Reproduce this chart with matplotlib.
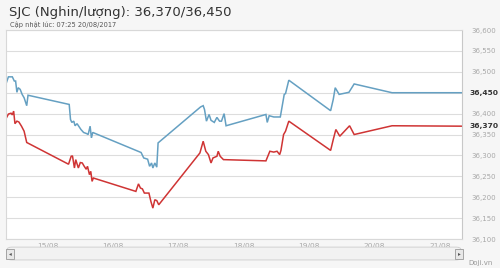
"""SJC gold price chart (buy/sell), 14/08 - 21/08/2017."""

import matplotlib.pyplot as plt
from matplotlib.patches import FancyBboxPatch, Rectangle
from matplotlib.ticker import FuncFormatter, MultipleLocator

# time in days of August (fractional), values in thousand VND per luong
SELL_DAY = [14.36, 14.40, 14.46, 14.49, 14.51, 14.53, 14.55, 14.58, 14.61, 14.64, 14.68, 14.70,
            15.33, 15.35, 15.37, 15.40, 15.42, 15.45, 15.48, 15.51, 15.55, 15.60, 15.62, 15.65, 15.67, 15.69,
            16.43, 16.47, 16.53, 16.56, 16.59, 16.61, 16.64, 16.67, 16.69,
            17.34, 17.38, 17.40, 17.43, 17.47, 17.50, 17.55, 17.59, 17.63, 17.66, 17.70, 17.73,
            18.34, 18.36, 18.39, 18.46, 18.56, 18.58, 18.62, 18.64, 18.69,
            19.33, 19.37, 19.40, 19.46, 19.61, 19.69, 20.27, 21.34]
SELL = [36470, 36488, 36488, 36478, 36478, 36451, 36462, 36458, 36446, 36438, 36419, 36444,
        36422, 36386, 36379, 36382, 36371, 36376, 36369, 36362, 36355, 36352, 36350, 36370, 36342, 36355,
        36307, 36294, 36291, 36274, 36282, 36270, 36282, 36272, 36330,
        36416, 36419, 36410, 36382, 36398, 36384, 36379, 36391, 36382, 36382, 36400, 36371,
        36398, 36379, 36395, 36392, 36392, 36410, 36446, 36448, 36480,
        36407, 36434, 36462, 36446, 36451, 36471, 36450, 36450]

BUY_DAY = [14.36, 14.40, 14.44, 14.46, 14.48, 14.50, 14.53, 14.56, 14.60, 14.64, 14.68,
           15.32, 15.36, 15.38, 15.41, 15.43, 15.47, 15.50, 15.53, 15.56, 15.59, 15.61, 15.64, 15.66,
           15.68, 15.70,
           16.35, 16.39, 16.42, 16.45, 16.48, 16.55, 16.58, 16.61, 16.64, 16.67, 16.70,
           17.33, 17.38, 17.42, 17.46, 17.50, 17.53, 17.56, 17.59, 17.61, 17.64, 17.69,
           18.34, 18.40, 18.46, 18.51, 18.55, 18.57, 18.61, 18.64, 18.69,
           19.33, 19.37, 19.41, 19.47, 19.62, 19.69, 20.27, 21.34]
BUY = [36387, 36399, 36401, 36397, 36406, 36376, 36382, 36380, 36370, 36358, 36331,
       36279, 36298, 36299, 36270, 36290, 36270, 36283, 36282, 36274, 36267, 36274, 36254, 36262,
       36238, 36246,
       36214, 36232, 36222, 36220, 36210, 36210, 36190, 36174, 36194, 36192, 36182,
       36306, 36334, 36310, 36302, 36282, 36294, 36296, 36298, 36310, 36298, 36290,
       36287, 36310, 36308, 36310, 36302, 36312, 36350, 36358, 36382,
       36312, 36338, 36362, 36346, 36371, 36350, 36371, 36370]

TICK_DAYS = [15, 16, 17, 18, 19, 20, 21]
TICK_LABELS = ["15/08", "16/08", "17/08", "18/08", "19/08", "20/08", "21/08"]
TITLE = "SJC (Nghin/lượng): 36,370/36,450"
SUBTITLE = "Cập nhật lúc: 07:25 20/08/2017"
LAST_BUY, LAST_SELL = 36370, 36450

BLUE = "#65a0c2"
RED = "#cf3434"
GRID = "#dddddd"
LABEL = "#a8a8a8"


def main() -> None:
    fig = plt.figure(figsize=(5.0, 2.68), dpi=100)
    fig.patch.set_facecolor("#f6f6f6")
    ax = fig.add_axes([0.012, 0.108, 0.912, 0.780])
    ax.set_facecolor("white")

    ax.plot(SELL_DAY, SELL, color=BLUE, linewidth=1.1, solid_joinstyle="miter")
    ax.plot(BUY_DAY, BUY, color=RED, linewidth=1.1, solid_joinstyle="miter")

    ax.set_xlim(14.363, 21.34)
    ax.set_ylim(36100, 36600)
    ax.yaxis.set_major_locator(MultipleLocator(50))
    # the current sell value replaces its own grid label
    ax.yaxis.set_major_formatter(
        FuncFormatter(lambda v, _: "" if round(v) == LAST_SELL else f"{v:,.0f}"))
    ax.yaxis.tick_right()
    ax.grid(True, axis="y", color=GRID, linewidth=0.8)
    ax.set_axisbelow(True)
    ax.tick_params(axis="y", length=0, pad=7, labelsize=5.0, labelcolor=LABEL)
    ax.set_xticks(TICK_DAYS)
    ax.set_xticklabels(TICK_LABELS)
    ax.tick_params(axis="x", length=0, pad=3, labelsize=5.3, labelcolor=LABEL)
    for side in ("left", "top", "bottom"):
        ax.spines[side].set_color("#d8d8d8")
        ax.spines[side].set_linewidth(0.8)
    ax.spines["right"].set_color("#c8c8c8")

    # current value labels on the right axis
    for val in (LAST_SELL, LAST_BUY):
        ax.annotate(f"{val:,}", xy=(1, val), xycoords=("axes fraction", "data"),
                    xytext=(5.5, 0), textcoords="offset points", va="center", ha="left",
                    fontsize=5.4, fontweight="bold", color="#333333")

    fig.text(0.018, 0.952, TITLE, fontsize=9.5, color="#333333", va="center")
    fig.text(0.020, 0.908, SUBTITLE, fontsize=4.8, color="#555555", va="center")

    # navigator scrollbar
    fig.patches.append(FancyBboxPatch((0.014, 0.030), 0.908, 0.048,
                                      boxstyle="round,pad=0,rounding_size=0.01",
                                      transform=fig.transFigure, facecolor="#f2f2f2",
                                      edgecolor="#cccccc", linewidth=0.6))
    for bx, arrow in ((0.012, "◂"), (0.910, "▸")):
        fig.patches.append(Rectangle((bx, 0.035), 0.016, 0.036, transform=fig.transFigure,
                                     facecolor="#e8e8e8", edgecolor="#999999", linewidth=0.6))
        fig.text(bx + 0.008, 0.053, arrow, fontsize=4, color="#555555", ha="center", va="center")
    fig.text(0.985, 0.018, "Doji.vn", fontsize=5, color="#999999", ha="right", va="center")

    fig.savefig("out.png", dpi=100, facecolor=fig.get_facecolor())


if __name__ == "__main__":
    main()
